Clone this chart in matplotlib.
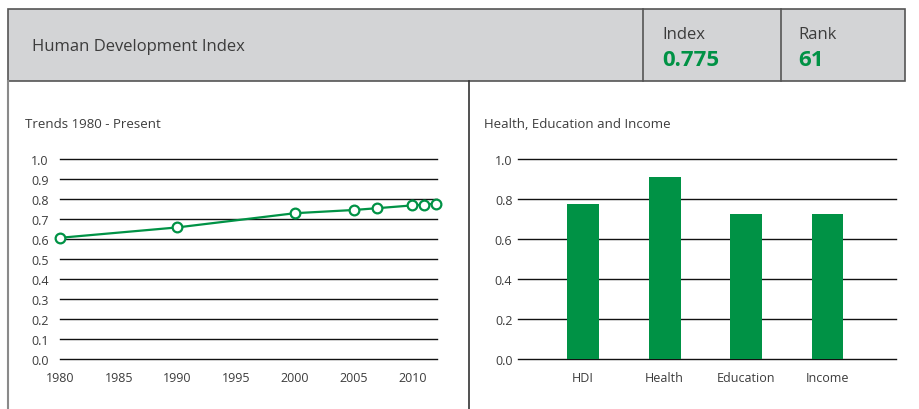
import matplotlib
matplotlib.use("Agg")
import matplotlib.pyplot as plt
from matplotlib.patches import Rectangle
from matplotlib.lines import Line2D

# trend data
years = [1980, 1990, 2000, 2005, 2007, 2010, 2011, 2012]
hdi_trend = [0.606, 0.658, 0.729, 0.745, 0.754, 0.768, 0.772, 0.777]
trend_ticks = [1980, 1985, 1990, 1995, 2000, 2005, 2010]

# components
components = ["HDI", "Health", "Education", "Income"]
component_values = [0.774, 0.910, 0.724, 0.724]

index_value = "0.775"
rank_value = "61"

GREEN = "#009245"
TXT = "#3c3c3c"
W, H = 919, 410

plt.rcParams["font.family"] = ["Open Sans", "DejaVu Sans"]

fig = plt.figure(figsize=(W / 100, H / 100), dpi=100)


def fx(px):
    return px / W


def fy(py):
    return 1 - py / H


# header band
fig.add_artist(Rectangle((fx(8), fy(82)), fx(905) - fx(8), fy(10) - fy(82),
                         transform=fig.transFigure, facecolor="#d3d4d6",
                         edgecolor="#555555", lw=1.2))
for xp in (643, 781):
    fig.add_artist(Line2D([fx(xp), fx(xp)], [fy(82), fy(10)],
                          transform=fig.transFigure, color="#555555", lw=1.2))
# panel dividers
fig.add_artist(Line2D([fx(8), fx(8)], [fy(82), 0], transform=fig.transFigure,
                      color="#8a8a8a", lw=1.5))
fig.add_artist(Line2D([fx(469), fx(469)], [fy(82), 0], transform=fig.transFigure,
                      color="#333333", lw=1.2))

fig.text(fx(32), fy(47), "Human Development Index", fontsize=12, color=TXT,
         va="center", ha="left")
fig.text(fx(662), fy(35), "Index", fontsize=12, color=TXT, va="center")
fig.text(fx(662), fy(61), index_value, fontsize=16, color=GREEN,
         fontweight="bold", va="center")
fig.text(fx(798), fy(35), "Rank", fontsize=12, color=TXT, va="center")
fig.text(fx(798), fy(61), rank_value, fontsize=16, color=GREEN,
         fontweight="bold", va="center")

fig.text(fx(25), fy(124), "Trends 1980 - Present", fontsize=9.5, color=TXT,
         va="center")
fig.text(fx(484), fy(124), "Health, Education and Income", fontsize=9.5,
         color=TXT, va="center")


def style(ax, yticks):
    for s in ax.spines.values():
        s.set_visible(False)
    ax.set_ylim(0, 1)
    ax.set_yticks(yticks)
    ax.set_yticklabels(["%.1f" % v for v in yticks])
    for v in yticks:
        ax.axhline(v, color="#111111", lw=1.0, zorder=1, clip_on=False)
    ax.tick_params(length=0, labelsize=9, labelcolor=TXT)


# trend chart
ax1 = fig.add_axes([fx(60), fy(360), fx(437) - fx(60), fy(160) - fy(360)])
style(ax1, [i / 10 for i in range(11)])
ax1.tick_params(axis="y", pad=8)
ax1.tick_params(axis="x", pad=9)
ax1.plot(years, hdi_trend, color=GREEN, lw=1.6, marker="o", ms=7,
         mfc="white", mec=GREEN, mew=1.6, zorder=3, clip_on=False)
ax1.set_xlim(1980, 2012.1)
ax1.set_xticks(trend_ticks)

# component bars
ax2 = fig.add_axes([fx(518), fy(360), fx(896) - fx(518), fy(160) - fy(360)])
style(ax2, [0.0, 0.2, 0.4, 0.6, 0.8, 1.0])
ax2.tick_params(axis="y", pad=4)
ax2.tick_params(axis="x", pad=9)
ax2.bar(range(len(components)), component_values, width=0.39, color=GREEN,
        zorder=2)
ax2.set_xlim(-0.8, 3.84)
ax2.set_xticks(range(len(components)))
ax2.set_xticklabels(components)

fig.savefig("out.png", dpi=100)
